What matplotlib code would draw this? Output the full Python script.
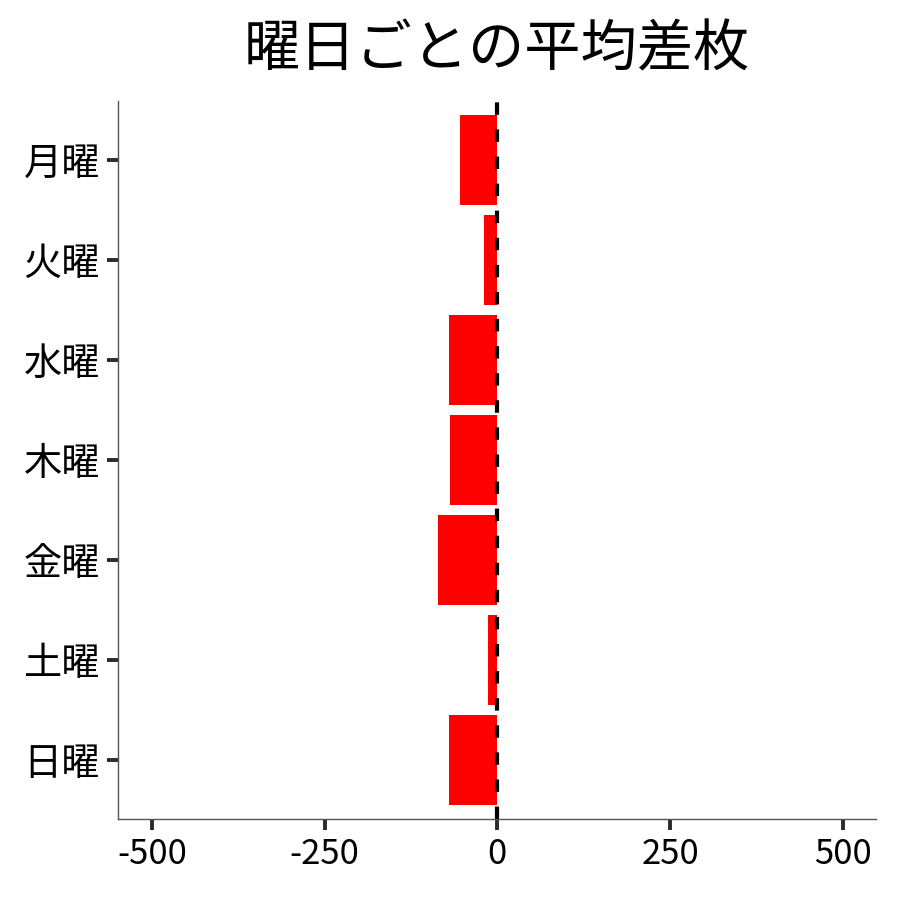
import matplotlib
matplotlib.use("Agg")
import matplotlib.pyplot as plt

plt.rcParams['font.family'] = ['Noto Sans CJK JP', 'DejaVu Sans']

# 曜日ごとの平均差枚
youbi = ['月曜', '火曜', '水曜', '木曜', '金曜', '土曜', '日曜']
sa_mai = [-54, -19, -70, -69, -86, -14, -70]
xticks = [-500, -250, 0, 250, 500]

fig = plt.figure(figsize=(9, 9), dpi=100)
ax = fig.add_axes([118/900, 81/900, (876-118)/900, (819-101)/900])

pos = list(range(len(youbi)))[::-1]
ax.barh(pos, sa_mai, height=0.9, color='#ff0000', zorder=2)
ax.axvline(0, color='black', linewidth=3.0, linestyle=(0, (3, 3.5)), zorder=3)

ax.set_xlim(-549, 548)
ax.set_ylim(-0.59, 6.59)
ax.set_yticks(pos)
ax.set_yticklabels(youbi)
ax.set_xticks(xticks)
ax.set_xticklabels([str(v) for v in xticks])
ax.tick_params(axis='both', length=8, width=2.8, color='#2b2b2b', pad=5)
ax.tick_params(axis='x', labelsize=25)
ax.tick_params(axis='y', labelsize=27.5, pad=5)

for s in ['top', 'right']:
    ax.spines[s].set_visible(False)
for s in ['left', 'bottom']:
    ax.spines[s].set_color('#555555')
    ax.spines[s].set_linewidth(1)

fig.suptitle('曜日ごとの平均差枚', fontsize=40.5, y=0.976, va='top', x=0.552)

fig.savefig('out.png', dpi=100)
